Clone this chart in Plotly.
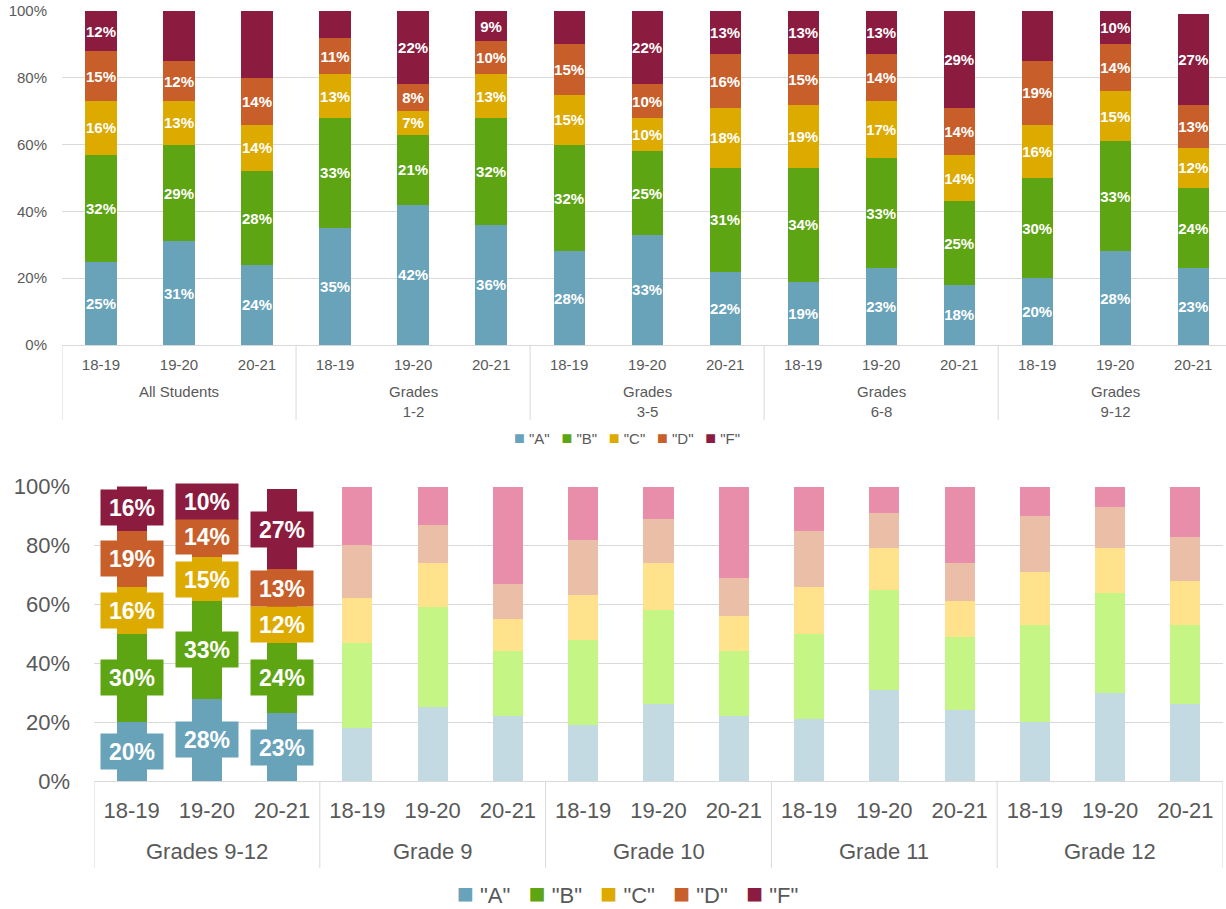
import plotly.graph_objects as go

GRADES = ['"A"', '"B"', '"C"', '"D"', '"F"']
YEARS = ['18-19', '19-20', '20-21']

TOP_GROUPS = ['All Students', 'Grades<br>1-2', 'Grades<br>3-5', 'Grades<br>6-8', 'Grades<br>9-12']
BOTTOM_GROUPS = ['Grades 9-12', 'Grade 9', 'Grade 10', 'Grade 11', 'Grade 12']

# strong colours per grade, and the faded version used for the unlabeled bars
COLORS = ['#68A3BA', '#5EA513', '#DDAA00', '#C85F2B', '#8B1C3F']
PALE = ['#C3DAE3', '#C5F585', '#FFE28B', '#EBBEA7', '#E88EAA']

# top chart, % of students (3 years per group)
TOP_A = [25, 31, 24, 35, 42, 36, 28, 33, 22, 19, 23, 18, 20, 28, 23]
TOP_B = [32, 29, 28, 33, 21, 32, 32, 25, 31, 34, 33, 25, 30, 33, 24]
TOP_C = [16, 13, 14, 13, 7, 13, 15, 10, 18, 19, 17, 14, 16, 15, 12]
TOP_D = [15, 12, 14, 11, 8, 10, 15, 10, 16, 15, 14, 14, 19, 14, 13]
TOP_F = [12, 16, 21, 9, 22, 9, 11, 22, 13, 13, 13, 29, 16, 10, 27]

# bottom chart, % of students (3 years per group)
BOT_A = [20, 28, 23, 18, 25, 22, 19, 26, 22, 21, 31, 24, 20, 30, 26]
BOT_B = [30, 33, 24, 29, 34, 22, 29, 32, 22, 29, 34, 25, 33, 34, 27]
BOT_C = [16, 15, 12, 15, 15, 11, 15, 16, 12, 16, 14, 12, 18, 15, 15]
BOT_D = [19, 14, 13, 18, 13, 12, 19, 15, 13, 19, 12, 13, 19, 14, 15]
BOT_F = [16, 10, 27, 20, 13, 33, 18, 11, 31, 15, 9, 26, 10, 7, 17]

N_LABELED = 3  # only the Grades 9-12 bars get labels in the bottom chart

W, H = 1226, 909
GRID = '#D9D9D9'
TXT = '#595959'
FONT = 'Liberation Sans, Arial, sans-serif'
NB = '\u00a0'


def fx(px):
    return px / W


def fy(px):
    return 1 - px / H


top_vals = [TOP_A, TOP_B, TOP_C, TOP_D, TOP_F]
bot_vals = [BOT_A, BOT_B, BOT_C, BOT_D, BOT_F]

n_per = len(YEARS)
n_bars = n_per * len(TOP_GROUPS)
pos = list(range(n_bars))
year_text = YEARS * len(TOP_GROUPS)

fig = go.Figure()

for i, g in enumerate(GRADES):
    fig.add_trace(go.Bar(
        x=pos, y=top_vals[i], name=g,
        marker=dict(color=COLORS[i], line=dict(width=0)),
        text=[f'{v}%' for v in top_vals[i]], texttemplate='%{text}',
        textposition='inside', insidetextanchor='middle',
        textangle=0, constraintext='none', cliponaxis=False,
        textfont=dict(color='white', size=15, family=FONT, weight='bold'),
        xaxis='x', yaxis='y', hoverinfo='skip', showlegend=False,
    ))

for i, g in enumerate(GRADES):
    colors = [COLORS[i]] * N_LABELED + [PALE[i]] * (n_bars - N_LABELED)
    fig.add_trace(go.Bar(
        x=pos, y=bot_vals[i], name=g,
        marker=dict(color=colors, line=dict(width=0)),
        cliponaxis=False,
        xaxis='x2', yaxis='y2', hoverinfo='skip', showlegend=False,
    ))

annotations = []
shapes = []

# boxed labels for the first three bottom bars
for j in range(N_LABELED):
    base = 0
    for i in range(len(GRADES)):
        v = bot_vals[i][j]
        annotations.append(dict(
            x=pos[j], y=base + v / 2, xref='x2', yref='y2',
            text=f'{v}%', showarrow=False,
            font=dict(color='white', size=23, family=FONT, weight='bold'),
            bgcolor=COLORS[i], width=58, height=31, borderpad=2,
        ))
        base += v

# group labels and the divider lines between groups
for k, g in enumerate(TOP_GROUPS):
    annotations.append(dict(
        x=k * n_per + (n_per - 1) / 2, y=fy(381), xref='x', yref='paper',
        text=g, showarrow=False, yanchor='top',
        font=dict(size=15, color=TXT, family=FONT),
    ))
for k, g in enumerate(BOTTOM_GROUPS):
    annotations.append(dict(
        x=k * n_per + (n_per - 1) / 2, y=fy(851), xref='x2', yref='paper',
        text=g, showarrow=False, yanchor='middle',
        font=dict(size=22, color=TXT, family=FONT),
    ))
for k in range(len(TOP_GROUPS) + 1):
    xd = k * n_per - 0.5
    shapes.append(dict(type='line', xref='x', yref='paper', x0=xd, x1=xd,
                       y0=fy(345), y1=fy(420), line=dict(color=GRID, width=1)))
    shapes.append(dict(type='line', xref='x2', yref='paper', x0=xd, x1=xd,
                       y0=fy(781), y1=fy(868), line=dict(color=GRID, width=1)))


def legend_text(gap, sq):
    parts = [f'<span style="color:{c};font-size:{sq}px">\u25a0</span>{NB}{g}'
             for g, c in zip(GRADES, COLORS)]
    return gap.join(parts)


# compact Excel-style legends under each chart
annotations.append(dict(
    x=fx(627), y=fy(438), xref='paper', yref='paper', showarrow=False,
    xanchor='center', yanchor='middle', text=legend_text('\u2002' + NB, 18),
    font=dict(size=15, color=TXT, family=FONT),
))
annotations.append(dict(
    x=fx(627), y=fy(893), xref='paper', yref='paper', showarrow=False,
    xanchor='center', yanchor='middle', text=legend_text(NB * 3, 28),
    font=dict(size=22, color=TXT, family=FONT),
))

axis_x = dict(
    tickmode='array', tickvals=pos, ticktext=year_text,
    showline=True, linecolor=GRID, linewidth=1, zeroline=False,
    ticks='', showgrid=False, color=TXT, automargin=False,
)
axis_y = dict(
    range=[0, 100], dtick=20, ticksuffix='%', showgrid=True, gridcolor=GRID,
    gridwidth=1, zeroline=False, showline=False, ticks='', color=TXT,
    automargin=False, ticklabeloverflow='allow',
)

fig.update_layout(
    width=W, height=H,
    margin=dict(l=0, r=0, t=0, b=0, autoexpand=False),
    barmode='stack', bargap=0.6,
    plot_bgcolor='white', paper_bgcolor='white',
    font=dict(family=FONT, color=TXT),
    showlegend=False,
    xaxis=dict(axis_x, domain=[fx(62), 1], anchor='y', range=[-0.5, 14.42],
               tickfont=dict(size=15), ticklabelstandoff=6),
    yaxis=dict(axis_y, domain=[fy(345), fy(11)], anchor='x',
               tickfont=dict(size=15), ticklabelstandoff=14),
    xaxis2=dict(axis_x, domain=[fx(94), fx(1223)], anchor='y2', range=[-0.5, n_bars - 0.5],
                tickfont=dict(size=22), ticklabelstandoff=10),
    yaxis2=dict(axis_y, domain=[fy(781), fy(486.5)], anchor='x2',
                tickfont=dict(size=22), ticklabelstandoff=23),
    annotations=annotations,
    shapes=shapes,
)

# drop the default page margin so the figure fills the window exactly
fig.write_html('out.html', config={'displayModeBar': False},
               post_script="document.body.style.margin = '0';")
